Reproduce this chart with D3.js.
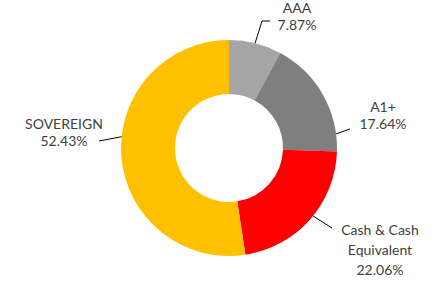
<!DOCTYPE html>
<html>
<head>
  <style>
    body { margin: 0; background: #fff; }
    svg text { font-family: Lato, "Liberation Sans", Arial, sans-serif; font-size: 14px; fill: #404040; }
  </style>
</head>
<body>
  <svg id="chart"></svg>
  <script src="https://d3js.org/d3.v7.min.js"></script>
  <script>
    // Data
    const categories = ["AAA", "A1+", "Cash & Cash Equivalent", "SOVEREIGN"];
    const shares = [7.87, 17.64, 22.06, 52.43];
    const colors = ["#A5A5A5", "#7F7F7F", "#FF0000", "#FFC000"];

    // Label layout: label lines, leader angle (deg from top), leader elbow/end, label centre
    const labelLayout = [
      { lines: ["AAA"], angle: 14, elbow: [262, 21], end: [270, 21], x: 297, y: 13 },
      { lines: ["A1+"], angle: 82.5, end: [350, 129], x: 383, y: 112 },
      { lines: ["Cash & Cash", "Equivalent"], angle: 129, end: [332, 228], x: 380, y: 235 },
      { lines: ["SOVEREIGN"], angle: 276, end: [99, 141], x: 64, y: 129 }
    ];

    const width = 448, height = 285;
    const cx = 229, cy = 148, outerR = 108, innerR = 54;

    const svg = d3.select("#chart").attr("width", width).attr("height", height);
    const g = svg.append("g").attr("transform", `translate(${cx},${cy})`);

    const pie = d3.pie().sort(null).value(d => d);
    const arc = d3.arc().innerRadius(innerR).outerRadius(outerR);

    g.selectAll("path")
      .data(pie(shares))
      .join("path")
      .attr("d", arc)
      .attr("fill", (d, i) => colors[i]);

    const fmt = v => v.toFixed(2) + "%";

    labelLayout.forEach((l, i) => {
      const a = l.angle * Math.PI / 180;
      const sx = cx + outerR * Math.sin(a), sy = cy - outerR * Math.cos(a);
      const pts = [[sx, sy]];
      if (l.elbow) pts.push(l.elbow);
      pts.push(l.end);
      svg.append("path")
        .attr("d", d3.line()(pts))
        .attr("fill", "none")
        .attr("stroke", "#000")
        .attr("stroke-width", 1);

      const lineH = l.lines.length > 1 ? 20 : 17;
      const t = svg.append("text").attr("text-anchor", "middle");
      const all = l.lines.concat([fmt(shares[i])]);
      all.forEach((s, j) => {
        t.append("tspan").attr("x", l.x).attr("y", l.y + j * lineH).text(s);
      });
    });
  </script>
</body>
</html>
